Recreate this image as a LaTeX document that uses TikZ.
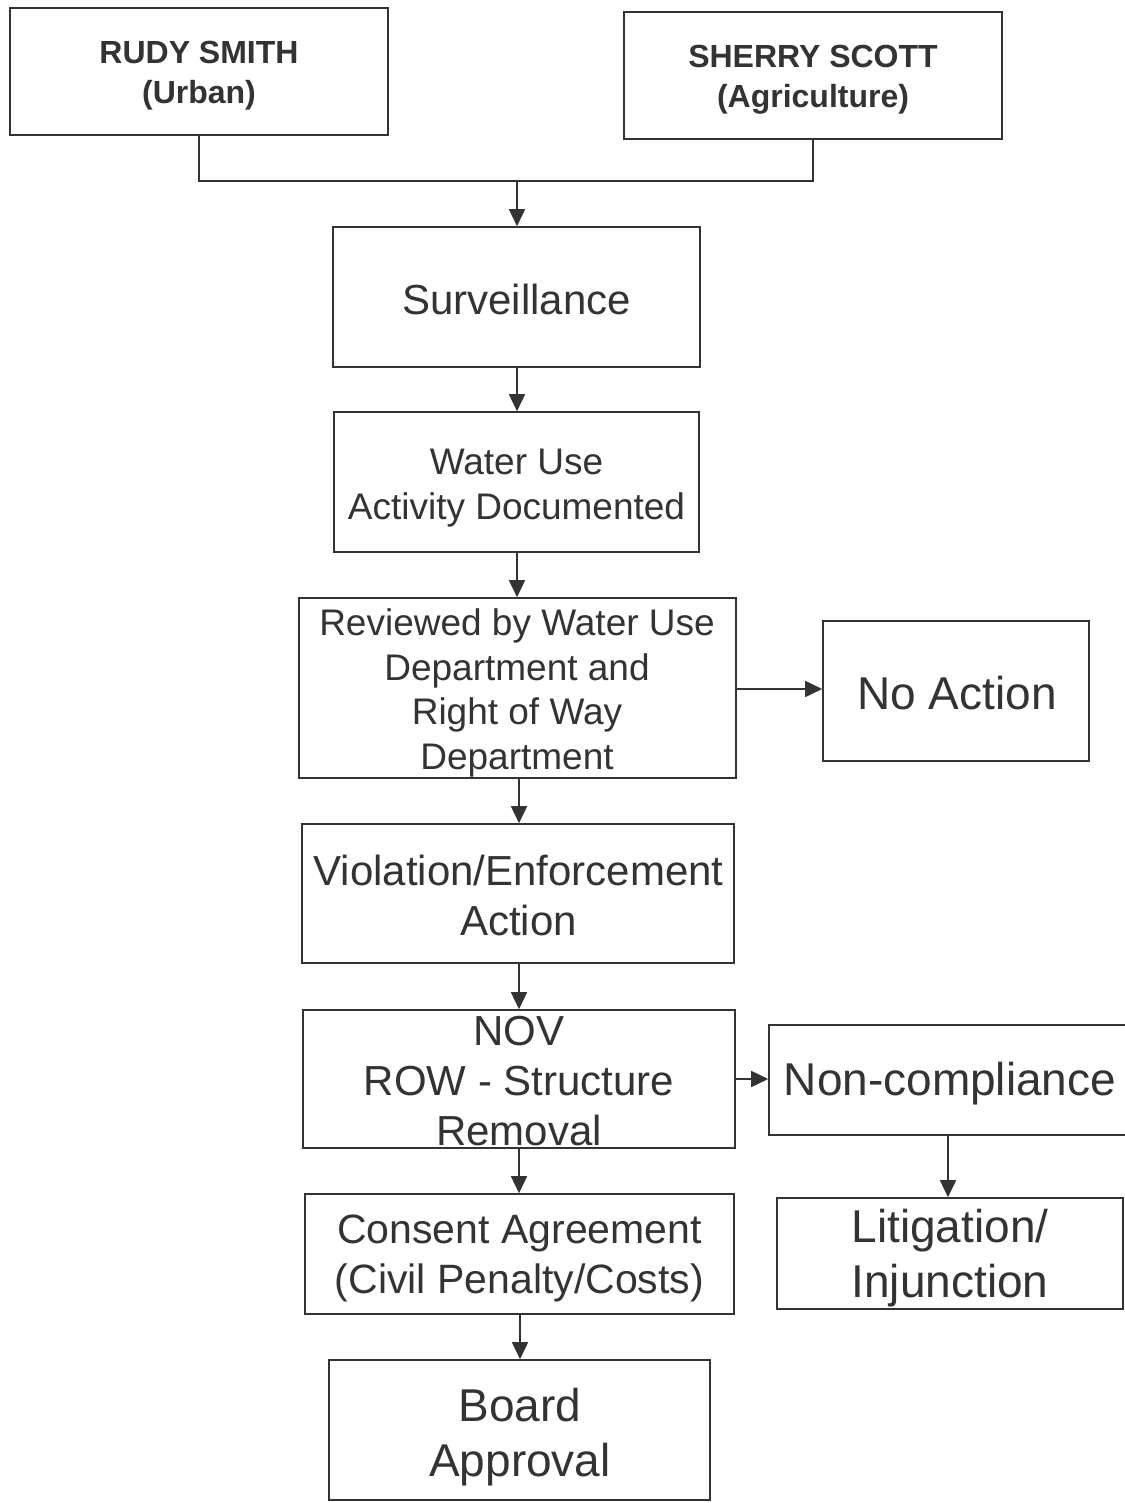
\documentclass[tikz,border=0pt]{standalone}
\usepackage{fontspec}
\setmainfont{Liberation Sans}
\usetikzlibrary{arrows.meta}
\definecolor{ink}{HTML}{333333}
\tikzset{
  box/.style={draw=ink, line width=1.6pt, rectangle, inner sep=0pt},
  txt/.style={text=ink, align=center, inner sep=0pt},
  conn/.style={draw=ink, line width=1.6pt},
  arr/.style={conn, -{Triangle[length=17pt,width=16pt]}},
}
\newcommand{\fs}[2]{\fontsize{#1}{#2}\selectfont}
\begin{document}
\begin{tikzpicture}[x=1pt,y=-1pt]
\useasboundingbox (0,0) rectangle (1124,1503);
\fill[white] (0,0) rectangle (1124,1503);
% boxes
\node[box, minimum width=378, minimum height=127] (rudy) at (199,71.5) {};
\node[txt, font=\fs{32}{40}\bfseries] (rudy-t) at (199,76) {RUDY SMITH\\(Urban)};
\node[box, minimum width=378, minimum height=127] (sherry) at (813,75.5) {};
\node[txt, font=\fs{32}{40}\bfseries] (sherry-t) at (813,80) {SHERRY SCOTT\\(Agriculture)};
\node[box, minimum width=367, minimum height=140] (surv) at (516.5,297) {};
\node[txt, font=\fs{42}{50}] (surv-t) at (516.5,299) {Surveillance};
\node[box, minimum width=365, minimum height=140] (water) at (516.5,482) {};
\node[txt, font=\fs{37}{45}] (water-t) at (516.5,488) {Water Use\\Activity Documented};
\node[box, minimum width=437, minimum height=180] (rev) at (517.5,688) {};
\node[txt, font=\fs{37}{44.5}] (rev-t) at (517,693) {Reviewed by Water Use\\Department and\\Right of Way\\Department};
\node[box, minimum width=266, minimum height=140] (noact) at (956,691) {};
\node[txt, font=\fs{46}{55}] (noact-t) at (957,693) {No Action};
\node[box, minimum width=432, minimum height=139] (viol) at (518,893.5) {};
\node[txt, font=\fs{42}{50}] (viol-t) at (518.5,895) {Violation/Enforcement\\Action};
\node[box, minimum width=432, minimum height=138] (nov) at (519,1079) {};
\node[txt, font=\fs{42}{50}] (nov-t) at (519,1081) {NOV\\ROW - Structure\\Removal};
\node[box, minimum width=362, minimum height=110] (noncomp) at (950,1080) {};
\node[txt, font=\fs{46}{55}] (noncomp-t) at (950,1084) {Non-compliance};
\node[box, minimum width=346, minimum height=111] (litig) at (950,1253.5) {};
\node[txt, font=\fs{46}{55}] (litig-t) at (950,1258) {Litigation/\\Injunction};
\node[box, minimum width=429, minimum height=120] (consent) at (519.5,1254) {};
\node[txt, font=\fs{41}{50}] (consent-t) at (519.5,1258) {Consent Agreement\\(Civil Penalty/Costs)};
\node[box, minimum width=381, minimum height=140] (board) at (519.5,1430) {};
\node[txt, font=\fs{46}{55}] (board-t) at (520,1437) {Board\\Approval};
% connectors
\coordinate (join) at (517,181);
\draw[conn] (rudy.south) |- (join) -| (sherry.south);
\draw[arr] (join) -- (surv.north -| join);
\draw[arr] (surv.south -| join) -- (water.north -| join);
\draw[arr] (water.south -| join) -- (rev.north -| join);
\draw[arr] (rev.east |- 0,689) -- (noact.west |- 0,689);
\draw[arr] (rev.south -| 519,0) -- (viol.north -| 519,0);
\draw[arr] (viol.south -| 519,0) -- (nov.north -| 519,0);
\draw[arr] (nov.east) -- (nov.east -| noncomp.west);
\draw[arr] (noncomp.south -| 948,0) -- (litig.north -| 948,0);
\draw[arr] (nov.south) -- (nov.south |- consent.north);
\draw[arr] (consent.south -| 520,0) -- (board.north -| 520,0);
\end{tikzpicture}
\end{document}
